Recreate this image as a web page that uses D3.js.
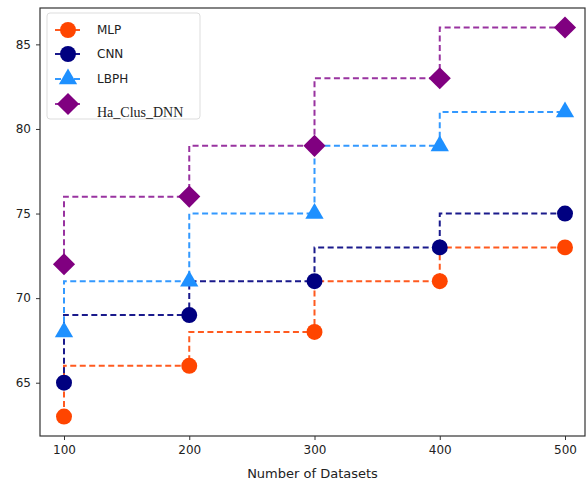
<!DOCTYPE html>
<html>
<head>
<meta charset="utf-8">
<script src="https://cdn.jsdelivr.net/npm/d3@7"></script>
<style>
  body { margin: 0; background: #fff; }
  text { font-family: "DejaVu Sans", sans-serif; fill: #222; }
</style>
</head>
<body>
<svg id="chart" width="588" height="489"></svg>
<script>
// Chart values
const datasets = [100, 200, 300, 400, 500];
const mlp = [63, 66, 68, 71, 73];
const cnn = [65, 69, 71, 73, 75];
const lbph = [68, 71, 75, 79, 81];
const haClusDnn = [72, 76, 79, 83, 86];
const seriesNames = ["MLP", "CNN", "LBPH", "Ha_Clus_DNN"];
const xTicks = [100, 200, 300, 400, 500];
const yTicks = [65, 70, 75, 80, 85];

// Plot area (the right edge of the frame sits almost on the image border)
let margin = { top: 8, left: 40, right: 3, bottom: 53 },
    width = 588 - margin.left - margin.right,
    height = 489 - margin.top - margin.bottom;

let svg = d3.select("#chart");
let g = svg.append("g")
    .attr("transform", "translate(" + margin.left + "," + margin.top + ")");

let x = d3.scaleLinear().domain([100, 500]).range([24, 525]);
let y = d3.scaleLinear().domain([61.85, 87.15]).range([height, 0]);

// Series styling
let colors = ["#ff4500", "#000080", "#1e90ff", "#800080"];
let lineColors = ["#ff5a1f", "#1a1a8c", "#3399ff", "#9933a0"];
let shapes = [d3.symbolCircle, d3.symbolCircle, d3.symbolTriangle, d3.symbolSquare];
let sizes = [200, 200, 145, 245];
let rotate = [0, 0, 0, 45];
let allSeries = [mlp, cnn, lbph, haClusDnn];

// Axes
let xAxis = g.append("g")
    .attr("transform", "translate(0," + height + ")")
    .call(d3.axisBottom(x).tickValues(xTicks).tickSize(4).tickPadding(5));
let yAxis = g.append("g")
    .call(d3.axisLeft(y).tickValues(yTicks).tickSize(4).tickPadding(5));
[xAxis, yAxis].forEach(a => {
    a.select(".domain").remove();
    a.selectAll("line").attr("stroke", "#333");
    a.selectAll("text").style("font-size", "12px").attr("fill", "#222");
});

// Frame
g.append("rect")
    .attr("width", width)
    .attr("height", height)
    .attr("fill", "none")
    .attr("stroke", "#333")
    .attr("stroke-width", 1.2);

// Step lines + markers
let line = d3.line()
    .x((d, i) => x(datasets[i]))
    .y(d => y(d))
    .curve(d3.curveStepBefore);

allSeries.forEach((vals, s) => {
    g.append("path")
        .datum(vals)
        .attr("d", line)
        .attr("fill", "none")
        .attr("stroke", lineColors[s])
        .attr("stroke-width", 2)
        .attr("stroke-dasharray", "6,3.5");
});
allSeries.forEach((vals, s) => {
    g.selectAll(".m" + s)
        .data(vals)
        .enter()
        .append("path")
        .attr("class", "m" + s)
        .attr("transform", (d, i) => "translate(" + x(datasets[i]) + "," + y(d) + ") rotate(" + rotate[s] + ")")
        .attr("d", d3.symbol().type(shapes[s]).size(sizes[s]))
        .attr("fill", colors[s]);
});

// X axis label
g.append("text")
    .attr("x", width / 2)
    .attr("y", height + 42)
    .attr("text-anchor", "middle")
    .style("font-size", "13px")
    .text("Number of Datasets");

// Legend
let legend = svg.append("g").attr("transform", "translate(47,13)");
legend.append("rect")
    .attr("width", 153)
    .attr("height", 106)
    .attr("rx", 3)
    .attr("fill", "#fff")
    .attr("fill-opacity", 0.85)
    .attr("stroke", "#ddd");
let rowY = [17, 41, 66, 91];
seriesNames.forEach((name, s) => {
    let row = legend.append("g").attr("transform", "translate(0," + rowY[s] + ")");
    row.append("line")
        .attr("x1", 8).attr("x2", 36)
        .attr("stroke", lineColors[s])
        .attr("stroke-width", 2)
        .attr("stroke-dasharray", "6,3.5");
    row.append("path")
        .attr("transform", "translate(21,0) rotate(" + rotate[s] + ")")
        .attr("d", d3.symbol().type(shapes[s]).size(sizes[s]))
        .attr("fill", colors[s]);
    let t = row.append("text")
        .attr("x", 50)
        .attr("y", s == 3 ? 13 : 4)
        .style("font-size", s == 3 ? "14px" : "12px")
        .text(name);
    if (s == 3) t.style("font-family", "'Liberation Serif', serif").attr("fill", "#111");
});
</script>
</body>
</html>
